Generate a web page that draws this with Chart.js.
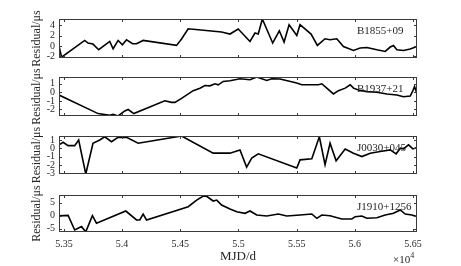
<!DOCTYPE html>
<html><head><meta charset="utf-8">
<script src="https://cdn.jsdelivr.net/npm/chart.js@4/dist/chart.umd.min.js"></script>
<style>
html,body{margin:0;padding:0;background:#fff;}
#wrap{position:relative;width:461px;height:266px;overflow:hidden;background:#fff;}
canvas{position:absolute;left:0;}
#exp{position:absolute;left:393px;top:251px;font:11px 'Liberation Serif';color:#262626;white-space:nowrap;}
#exp sup{font-size:8px;}
</style></head><body>
<div id="wrap">
<canvas id="c1" width="461" height="79" style="top:-1px"></canvas>
<canvas id="c2" width="461" height="79" style="top:57px"></canvas>
<canvas id="c3" width="461" height="78" style="top:116px"></canvas>
<canvas id="c4" width="461" height="91" style="top:175px"></canvas>
<div id="exp">×10<sup>4</sup></div>
</div>
<script>
// ---- data ----
const xTickValues = [53500, 54000, 54500, 55000, 55500, 56000, 56500];
const xMin = 53458, xMax = 56534;

const pulsarNames = ["B1855+09", "B1937+21", "J0030+045", "J1910+1256"];

const b1855Mjd = [53458,53480,53679,53707,53750,53799,53894,53923,53966,54003,54038,54090,54124,54181,54468,54511,54568,54855,54927,54998,55099,55142,55170,55205,55294,55351,55392,55435,55501,55529,55624,55678,55744,55787,55845,55902,55988,56046,56103,56189,56261,56304,56332,56361,56418,56476,56534];
const b1855Res = [0.0,-2.15,1.08,0.58,0.38,-0.71,0.88,-0.52,1.08,0.25,1.21,0.44,0.44,1.08,0.12,1.35,3.33,2.69,2.31,3.27,0.88,2.5,2.31,5.19,0.58,2.94,0.77,4.1,2.04,4.1,2.31,0.12,1.4,1.21,1.4,-0.08,-0.85,-0.38,-0.27,-0.71,-1.04,-0.19,0.12,-0.71,-0.85,-0.58,-0.08];
const b1855Ticks = [-2, 0, 2, 4];

const b1937Mjd = [53458,53794,53894,53923,53966,54023,54052,54101,54367,54425,54454,54511,54611,54669,54712,54755,54798,54826,54869,54927,55013,55099,55157,55243,55286,55357,55501,55544,55687,55716,55759,55816,55859,55917,55960,55988,56031,56103,56189,56275,56361,56418,56476,56499,56513,56528,56534];
const b1937Res = [-0.31,-2.48,-2.68,-2.56,-2.76,-2.17,-2.0,-2.48,-0.98,-1.17,-1.17,-0.7,0.2,0.49,0.79,0.76,1.0,0.88,1.27,1.35,1.59,1.47,1.79,1.39,1.59,1.55,1.08,0.88,0.88,1.0,0.49,-0.19,0.2,0.49,0.88,0.49,0.28,0.08,0.01,-0.19,-0.31,-0.51,-0.43,0.2,0.68,0.08,-0.31];
const b1937Ticks = [-2, -1, 0, 1];

const j0030Mjd = [53458,53493,53536,53593,53627,53688,53750,53808,53851,53909,53966,54038,54138,54511,54783,54927,55013,55070,55114,55170,55501,55529,55630,55695,55744,55787,55839,55917,55988,56060,56132,56218,56304,56355,56390,56418,56461,56499,56534];
const j0030Res = [0.42,0.74,0.33,0.33,1.01,-3.07,0.62,1.01,1.4,0.81,1.33,1.33,0.62,1.49,-0.57,-0.57,-0.18,-2.24,-1.17,-0.65,-2.36,-1.37,-1.25,1.4,-1.96,0.62,-1.49,-0.06,-0.57,-0.98,-0.57,-0.38,-0.18,-0.65,0.02,-0.06,0.42,-0.06,0.1];
const j0030Ticks = [-3, -2, -1, 0, 1];

const j1910Mjd = [53458,53536,53593,53651,53688,53745,53780,54032,54124,54152,54181,54210,54568,54641,54712,54783,54813,54855,54927,54985,55056,55099,55157,55243,55343,55415,55529,55630,55673,55716,55787,55888,55974,56003,56060,56103,56189,56261,56332,56390,56433,56490,56534];
const j1910Res = [0.0,0.1,-5.5,-4.2,-6.2,0.0,-2.9,1.8,-1.65,-1.65,0.65,-1.65,3.46,6.0,7.96,5.65,6.0,4.1,2.58,1.54,0.92,1.8,0.27,-0.12,0.65,-0.12,0.27,0.65,-1.0,0.27,0.0,-1.27,-1.27,-0.38,-0.12,-1.0,-0.77,0.27,0.92,2.2,0.65,0.27,-0.38];
const j1910Ticks = [-5, 0, 5];

// ---- drawing ----
const AX = '#3a3a3a';
const serif = "'Liberation Serif', 'Times New Roman', serif";

const framePlugin = {
  id: 'frame',
  afterDatasetsDraw(chart, args, opts) {
    const { ctx, chartArea: a, scales } = chart;
    const xs = scales.x, ys = scales.y;
    ctx.save();
    ctx.strokeStyle = AX;
    ctx.lineWidth = 1;
    ctx.strokeRect(Math.round(a.left) + 0.5, Math.round(a.top) + 0.5,
                   Math.round(a.right - a.left) - 1, Math.round(a.bottom - a.top) - 1);
    ctx.beginPath();
    const tl = 3;
    xs.ticks.forEach(t => {
      const px = Math.round(xs.getPixelForValue(t.value)) + 0.5;
      ctx.moveTo(px, a.bottom); ctx.lineTo(px, a.bottom - tl);
      ctx.moveTo(px, a.top); ctx.lineTo(px, a.top + tl);
    });
    ys.ticks.forEach(t => {
      const py = Math.round(ys.getPixelForValue(t.value)) + 0.5;
      ctx.moveTo(a.left, py); ctx.lineTo(a.left + tl, py);
      ctx.moveTo(a.right, py); ctx.lineTo(a.right - tl, py);
    });
    ctx.stroke();
    ctx.fillStyle = '#262626';
    ctx.font = '11px ' + serif;
    ctx.textBaseline = 'middle';
    ctx.textAlign = 'left';
    ctx.fillText(opts.label, 357, a.top + 12.5);
    ctx.restore();
  }
};

function makePanel(id, mjd, res, yMin, yMax, yTicks, label, isBottom) {
  const pts = mjd.map((m, i) => ({ x: m, y: res[i] }));
  return new Chart(document.getElementById(id), {
    type: 'line',
    data: { datasets: [{ data: pts, borderColor: '#000', borderWidth: 1.6,
                         pointRadius: 0, tension: 0, fill: false }] },
    options: {
      responsive: false, animation: false, devicePixelRatio: 1, events: [],
      layout: { padding: { left: 0, right: 44, top: 20, bottom: isBottom ? 0 : 20 } },
      plugins: { legend: { display: false }, tooltip: { enabled: false },
                 frame: { label: label } },
      scales: {
        x: {
          type: 'linear', min: xMin, max: xMax,
          afterBuildTicks: s => { s.ticks = xTickValues.map(v => ({ value: v })); },
          afterFit: s => { s.height = isBottom ? 34 : 0; },
          grid: { display: false, drawTicks: false },
          border: { display: false },
          ticks: {
            display: isBottom, autoSkip: false, maxRotation: 0, padding: 6,
            color: '#262626', font: { family: serif, size: 10 },
            callback: v => String(+(v / 10000).toFixed(3))
          },
          title: { display: isBottom, text: 'MJD/d', color: '#262626',
                   font: { family: serif, size: 13 }, padding: { top: 0, bottom: 2 } }
        },
        y: {
          type: 'linear', min: yMin, max: yMax,
          afterBuildTicks: s => { s.ticks = yTicks.map(v => ({ value: v })); },
          afterFit: s => { s.width = 59; },
          grid: { display: false, drawTicks: false },
          border: { display: false },
          ticks: { autoSkip: false, padding: 4, color: '#262626',
                   font: { family: serif, size: 10 } },
          title: { display: true, text: 'Residual/μs', color: '#262626',
                   font: { family: serif, size: 12 }, padding: { top: 30, bottom: 0 } }
        }
      }
    },
    plugins: [framePlugin]
  });
}

makePanel('c1', b1855Mjd, b1855Res, -2.3, 5.2, b1855Ticks, pulsarNames[0], false);
makePanel('c2', b1937Mjd, b1937Res, -2.76, 1.79, b1937Ticks, pulsarNames[1], false);
makePanel('c3', j0030Mjd, j0030Res, -3.07, 1.49, j0030Ticks, pulsarNames[2], false);
makePanel('c4', j1910Mjd, j1910Res, -6.27, 7.96, j1910Ticks, pulsarNames[3], true);
</script>
</body></html>
